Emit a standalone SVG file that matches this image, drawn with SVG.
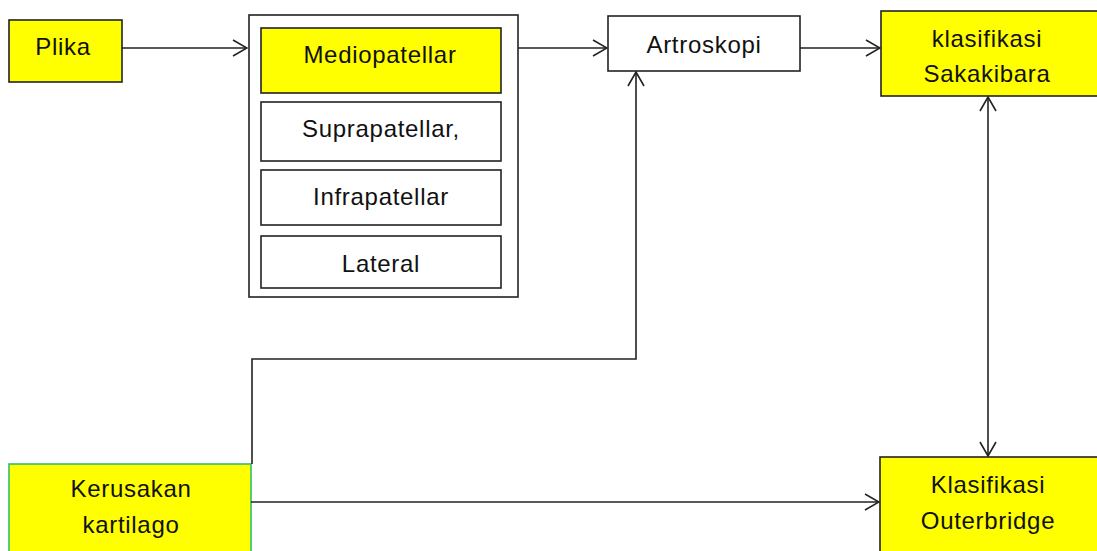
<svg xmlns="http://www.w3.org/2000/svg" width="1097" height="551" viewBox="0 0 1097 551">
<defs>
<marker id="ah" viewBox="0 0 16 18" refX="15" refY="9" markerWidth="16" markerHeight="18" markerUnits="userSpaceOnUse" orient="auto-start-reverse">
<path d="M1,1 L15,9 L1,17" fill="none" stroke="#222" stroke-width="1.6"/>
</marker>
<style>
.box{stroke:#222;stroke-width:1.6}
.y{fill:#ffff00}
.w{fill:#ffffff}
.t{font-family:"Liberation Sans",Arial,sans-serif;font-size:24px;letter-spacing:0.7px;fill:#111;text-anchor:middle}
.c{fill:none;stroke:#222;stroke-width:1.6}
</style>
</defs>
<rect width="1097" height="551" fill="#ffffff"/>
<g id="plika"><rect class="box y" x="9" y="20" width="113" height="62"/><text class="t" x="63" y="55">Plika</text></g>
<g id="container"><rect class="box w" x="249" y="15" width="269" height="282"/></g>
<g id="mediopatellar"><rect class="box y" x="261" y="28" width="240" height="65"/><text class="t" x="380" y="63">Mediopatellar</text></g>
<g id="suprapatellar"><rect class="box w" x="261" y="102" width="240" height="59"/><text class="t" x="381" y="137">Suprapatellar,</text></g>
<g id="infrapatellar"><rect class="box w" x="261" y="170" width="240" height="55"/><text class="t" x="381" y="205">Infrapatellar</text></g>
<g id="lateral"><rect class="box w" x="261" y="236" width="240" height="52"/><text class="t" x="381" y="272">Lateral</text></g>
<g id="artroskopi"><rect class="box w" x="608" y="16" width="192" height="55"/><text class="t" x="704" y="53">Artroskopi</text></g>
<g id="sakakibara"><rect class="box y" x="881" y="11" width="220" height="85"/><text class="t" x="987" y="47">klasifikasi</text><text class="t" x="987" y="82">Sakakibara</text></g>
<g id="outerbridge"><rect class="box y" x="880" y="457" width="221" height="100"/><text class="t" x="988" y="493">Klasifikasi</text><text class="t" x="988" y="529">Outerbridge</text></g>
<g id="kerusakan"><rect x="9" y="464" width="242" height="95" fill="#ffff00" stroke="#2fbf6f" stroke-width="1.6"/><text class="t" x="131" y="497">Kerusakan</text><text class="t" x="131" y="533">kartilago</text></g>
<g id="connectors">
<line class="c" x1="122" y1="48" x2="247" y2="48" marker-end="url(#ah)"/>
<line class="c" x1="518" y1="48" x2="607" y2="48" marker-end="url(#ah)"/>
<line class="c" x1="800" y1="48" x2="880" y2="48" marker-end="url(#ah)"/>
<line class="c" x1="988" y1="97" x2="988" y2="456" marker-start="url(#ah)" marker-end="url(#ah)"/>
<polyline class="c" points="252,464 252,359 636,359 636,72" marker-end="url(#ah)"/>
<line class="c" x1="251" y1="502" x2="879" y2="502" marker-end="url(#ah)"/>
</g>
</svg>
